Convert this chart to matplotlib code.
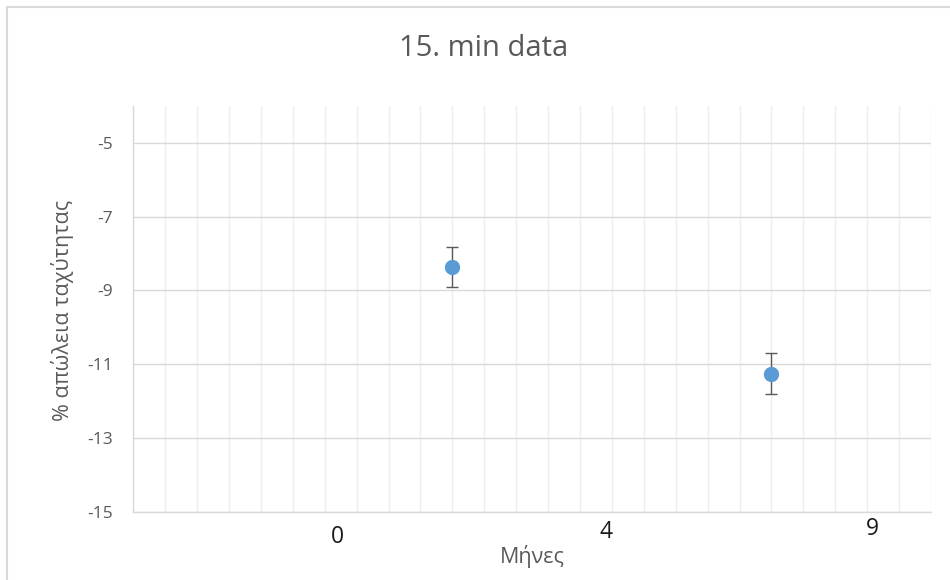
import matplotlib
matplotlib.use("Agg")
import matplotlib.pyplot as plt
from matplotlib.ticker import MultipleLocator
from matplotlib.lines import Line2D

plt.rcParams['font.family'] = ['Open Sans', 'DejaVu Sans']
plt.rcParams['axes.unicode_minus'] = False

# Data
title = "15. min data"
y_label = "% απώλεια ταχύτητας"
x_label = "Μήνες"
x_vals = [10, 20]
y_vals = [-8.36, -11.26]
y_err = [0.55, 0.56]
month_labels = ["0", "4", "9"]
y_ticks = [-15, -13, -11, -9, -7, -5]

W, H = 950, 580
fig = plt.figure(figsize=(W / 100, H / 100), dpi=100)
fig.patch.set_facecolor("white")

ax = fig.add_axes([133.3 / W, 1 - 511.7 / H, (931 - 133.3) / W, (511.7 - 106) / H])
ax.set_xlim(0, 25)
ax.set_ylim(-15, -4)

ax.errorbar(x_vals, y_vals, yerr=y_err, fmt='o', color='#5B9BD5', markersize=10,
            ecolor='#595959', elinewidth=1.0, capsize=4.5, capthick=1.0, zorder=3)

# Grid
ax.set_yticks(y_ticks)
ax.xaxis.set_major_locator(MultipleLocator(1))
ax.grid(axis='y', color='#d9d9d9', linewidth=1.0, zorder=0)
ax.grid(axis='x', color='#efefef', linewidth=1.0, zorder=0)
ax.set_axisbelow(True)

for s in ['top', 'right']:
    ax.spines[s].set_visible(False)
for s in ['left', 'bottom']:
    ax.spines[s].set_color('#d9d9d9')
    ax.spines[s].set_linewidth(1.0)

ax.tick_params(axis='x', length=0, labelbottom=False)
ax.tick_params(axis='y', length=0, labelsize=12.5, labelcolor='#595959', pad=14.5)

# Titles and axis labels
fig.text(484 / W, 1 - 48 / H, title, ha='center', va='center', fontsize=21, color='#595959')
fig.text(63 / W, 1 - 310 / H, y_label, ha='center', va='center', rotation=90,
         fontsize=15.5, color='#595959')
fig.text(532 / W, 1 - 557 / H, x_label, ha='center', va='center', fontsize=15.5, color='#595959')

# Month labels
month_pos = [(337.7, 537), (606.3, 531.7), (872.7, 529)]
for lab, (px, py) in zip(month_labels, month_pos):
    fig.text(px / W, 1 - py / H, lab, ha='center', va='center', fontsize=16.5, color='#1a1a1a')

# Chart frame (left and top edges)
fig.add_artist(Line2D([7 / W, 7 / W], [0, 1 - 7 / H], transform=fig.transFigure,
                      color='#d9d9d9', linewidth=1.5))
fig.add_artist(Line2D([7 / W, 1], [1 - 7 / H, 1 - 7 / H], transform=fig.transFigure,
                      color='#d9d9d9', linewidth=1.5))

fig.savefig("out.png", dpi=100, facecolor='white')
